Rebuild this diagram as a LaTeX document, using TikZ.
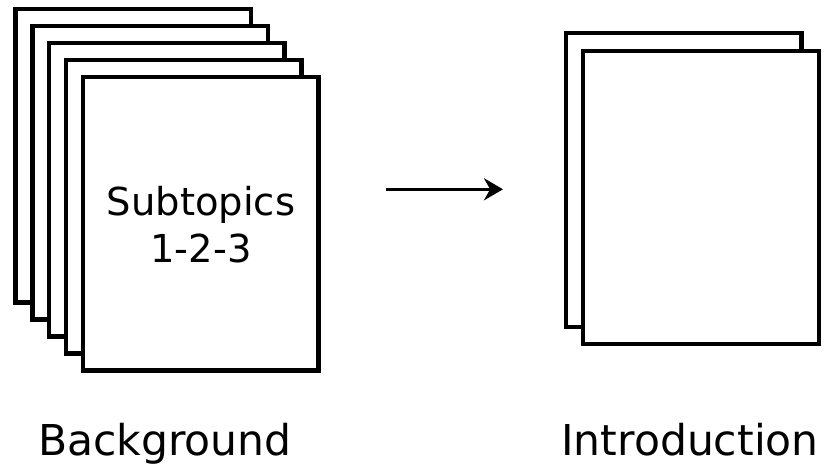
\documentclass[tikz,border=0pt]{standalone}
\usepackage{fontspec}
\setmainfont{DejaVu Sans}
\usetikzlibrary{arrows.meta}
\begin{document}
\begin{tikzpicture}[x=1pt,y=-1pt,
  page/.style={draw=black, fill=white, line width=4.2pt, minimum width=235.5pt,
    minimum height=293.5pt, inner sep=0pt, outer sep=0pt, anchor=north west},
  label/.style={font=\fontsize{42.5}{50}\selectfont, inner sep=0pt, anchor=base},
  sublabel/.style={font=\fontsize{38.5}{47}\selectfont, inner sep=0pt, anchor=base, align=center},
  conn/.style={line width=3.6pt, -{Stealth[length=19pt,width=22pt]}}]
\useasboundingbox (0,0) rectangle (832,466);
% left stack
\node[page] (p1) at (15.5,9) {};
\node[page] (p2) at (32.5,26) {};
\node[page] (p3) at (49,43) {};
\node[page] (p4) at (66,60) {};
\node[page] (p5) at (83,77) {};
\node[sublabel] (sub) at (201,262) {Subtopics\\1-2-3};
% right stack
\node[page] (q1) at (566,33.3) {};
\node[page] (q2) at (583.3,50.7) {};
% arrow
\coordinate (a1) at (386,189.3);
\coordinate (a2) at (503,189.3);
\draw[conn] (a1) -- (a2);
% captions
\node[label] (bg) at (165,455) {Background};
\node[label] (intro) at (690,455) {Introduction};
\end{tikzpicture}
\end{document}
